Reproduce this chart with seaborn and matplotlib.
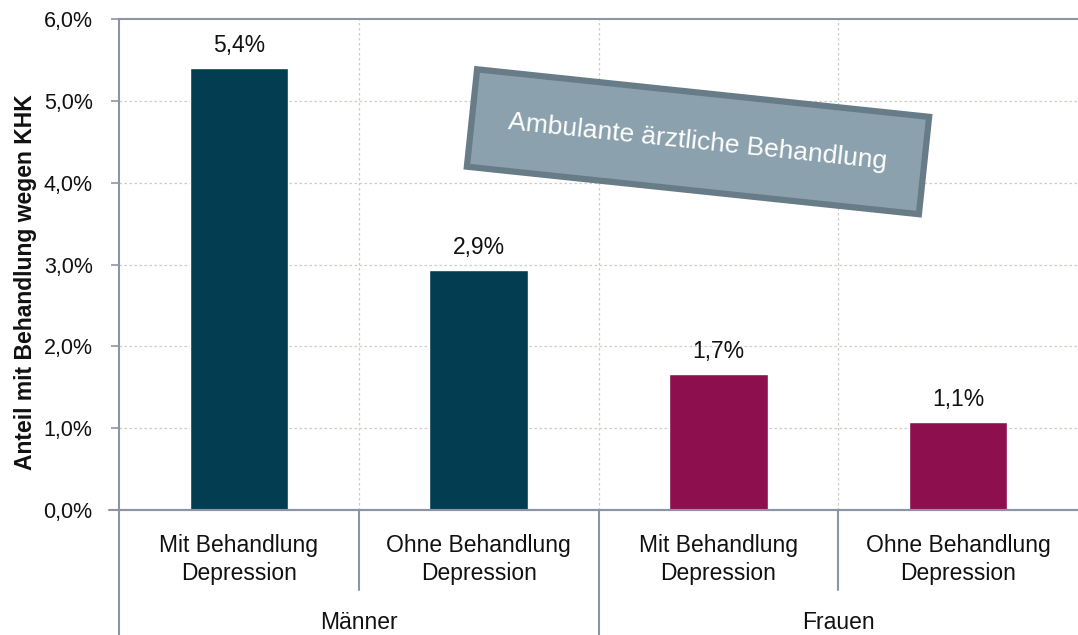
import matplotlib
matplotlib.use("Agg")
import matplotlib.pyplot as plt
import seaborn as sns
import pandas as pd
from matplotlib.ticker import FuncFormatter, MultipleLocator

# ---- data ----
groups = ["Männer", "Männer", "Frauen", "Frauen"]
subcats = ["Mit Behandlung\nDepression", "Ohne Behandlung\nDepression",
           "Mit Behandlung\nDepression", "Ohne Behandlung\nDepression"]
values = [5.4, 2.93, 1.66, 1.07]
value_labels = ["5,4%", "2,9%", "1,7%", "1,1%"]
group_names = ["Männer", "Frauen"]
y_label = "Anteil mit Behandlung wegen KHK"
box_text = "Ambulante ärztliche Behandlung"

colors = {"Männer": "#033d52", "Frauen": "#8e0f4e"}

sns.set_theme(style="white")
plt.rcParams['font.family'] = ['Liberation Sans', 'DejaVu Sans']

df = pd.DataFrame({"key": [f"{g}|{s}" for g, s in zip(groups, subcats)],
                   "group": groups, "value": values})

fig = plt.figure(figsize=(10.78, 6.35), dpi=100)
ax = fig.add_axes([119/1078, 125/635, (1078-119)/1078, (510-19)/635])

sns.barplot(data=df, x="key", y="value", hue="group", palette=colors,
            dodge=False, width=0.41, legend=False, ax=ax, saturation=1)

ax.set_ylim(0, 6)
ax.set_xlim(-0.5, 3.5)
ax.yaxis.set_major_locator(MultipleLocator(1))
ax.yaxis.set_major_formatter(FuncFormatter(lambda v, p: f"{v:.1f}%".replace(".", ",")))

axis_col = "#8c95a8"
grid_col = "#d2cbc3"
for y in [1, 2, 3, 4, 5]:
    ax.axhline(y, color=grid_col, lw=0.9, ls=(0, (2, 2)), zorder=0)
for x in [0.5, 1.5, 2.5]:
    ax.axvline(x, color=grid_col, lw=0.9, ls=(0, (2, 2)), zorder=0)

ax.spines["right"].set_visible(False)
for side in ["left", "bottom", "top"]:
    ax.spines[side].set_color(axis_col)
    ax.spines[side].set_linewidth(1.5)

ax.tick_params(axis="y", direction="out", length=6, width=1.2, color=axis_col,
               labelsize=15.5, pad=13, left=True, labelcolor="#111111")
ax.tick_params(axis="x", length=0)
ax.set_xticks(range(4))
ax.set_xticklabels([])
ax.set_xlabel("")
ax.set_ylabel(y_label, fontsize=16.5, fontweight="bold", color="#111111")
ax.yaxis.set_label_coords(-0.085, 0.464)

# value labels
for i, (v, lab) in enumerate(zip(values, value_labels)):
    ax.text(i, v + 0.2, lab, ha="center", va="baseline", fontsize=16.5, color="#111111")

# category labels below axis
trans = ax.get_xaxis_transform()
for i, s in enumerate(subcats):
    ax.text(i, -0.1, s, transform=trans, ha="center", va="center",
            fontsize=16.5, linespacing=1.27, color="#111111")
for gi, g in enumerate(group_names):
    ax.text(0.5 + 2 * gi, -0.229, g, transform=trans, ha="center", va="center",
            fontsize=16.5, color="#111111")

# separators below axis
for x, y0 in [(0.5, -0.163), (2.5, -0.163), (1.5, -0.26), (-0.5, -0.26)]:
    ax.plot([x, x], [0, y0], transform=trans, color=axis_col, lw=1.5, clip_on=False)
ax.plot([-0.54, 3.5], [0, 0], transform=trans, color=axis_col, lw=1.5, clip_on=False)

# rotated annotation box
ax.text(1.915, 4.5, box_text, rotation=-6.0, rotation_mode="anchor",
        ha="center", va="center", fontsize=19, color="#ffffff",
        bbox=dict(boxstyle="square,pad=1.4", fc="#8ba2ae", ec="#687c87", lw=4.5),
        zorder=5)

fig.savefig("out.png", dpi=100)
